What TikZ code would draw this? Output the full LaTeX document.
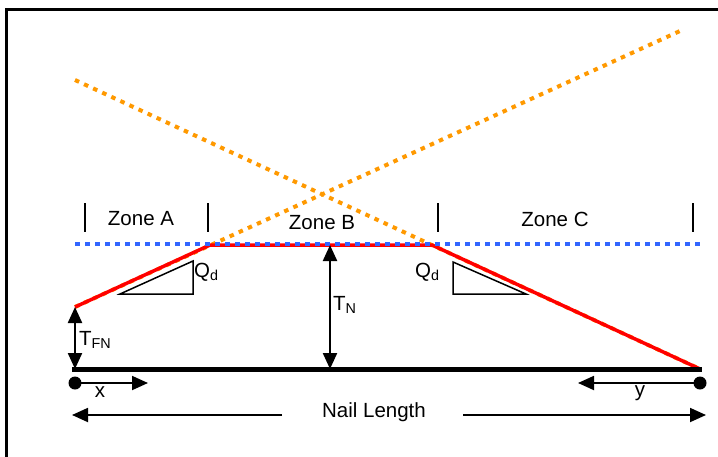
\documentclass[tikz,border=0pt]{standalone}
\usepackage{fontspec}
\setmainfont{Liberation Sans}
\usetikzlibrary{arrows.meta}
\begin{document}
\begin{tikzpicture}[x=1pt,y=-1pt,
 lbl/.style={font=\fontsize{20.5}{24}\selectfont, inner sep=0pt},
 onearrow/.style={line width=1.8pt, -{Triangle[length=16pt,width=14pt]}},
 twoarrow/.style={line width=2.2pt, {Triangle[length=16pt,width=14pt]}-{Triangle[length=16pt,width=14pt]}},
 orangedot/.style={draw={rgb,255:red,255;green,153;blue,0}, line width=4pt, dash pattern=on 4.5pt off 5.5pt},
 bluedot/.style={draw={rgb,255:red,51;green,102;blue,255}, line width=4.5pt, dash pattern=on 5pt off 5pt},
 redline/.style={draw=red, line width=3.5pt, line join=round},
 tick/.style={line width=2.5pt},
 dotnode/.style={circle, fill=black, inner sep=0pt, minimum size=13pt}]
\useasboundingbox (0,0) rectangle (718,456);
\draw[line width=3pt] (6,9) rectangle (760,500);
% key points
\coordinate (P0) at (75,307);
\coordinate (P1) at (210,245);
\coordinate (P2) at (432,245);
\coordinate (P3) at (700,369);
\coordinate (OA) at (75,80);
\coordinate (OB) at (680,31);
\coordinate (BL) at (75,244);
\coordinate (BR) at (700,244);
\coordinate (NL) at (72,369);
\coordinate (NR) at (702,369);
% orange dotted lines
\draw[orangedot] (OA) -- (P3);
\draw[orangedot] (P0) -- (OB);
% red profile
\draw[redline] (P0) -- (P1) -- (P2) -- (P3);
% blue dotted line
\draw[bluedot] (BL) -- (BR);
% nail
\draw[line width=5pt] (NL) -- (NR);
% zone ticks
\foreach \n/\x in {t1/85,t2/208,t3/438,t4/693}{
  \coordinate (\n a) at (\x,203);
  \coordinate (\n b) at (\x,232);
  \draw[tick] (\n a) -- (\n b);
}
\node[lbl] (za) at (141,219) {Zone A};
\node[lbl] (zb) at (322,223) {Zone B};
\node[lbl] (zc) at (555,219) {Zone C};
% slope triangles
\coordinate (a1) at (120,294);
\coordinate (a2) at (193,261);
\coordinate (a3) at (193,294);
\draw[line width=1.5pt, line join=miter] (a1) -- (a2) -- (a3) -- cycle;
\coordinate (b1) at (453,262);
\coordinate (b2) at (453,294);
\coordinate (b3) at (526,294);
\draw[line width=1.5pt, line join=miter] (b1) -- (b2) -- (b3) -- cycle;
\node[lbl, anchor=west] (q1) at (194,272) {Q\textsubscript{d}};
\node[lbl, anchor=west] (q2) at (415,272) {Q\textsubscript{d}};
% T_N
\coordinate (tn0) at (330,245);
\coordinate (tn1) at (330,369);
\draw[twoarrow] (tn0) -- (tn1);
\node[lbl, anchor=west] (tn) at (333,305) {T\textsubscript{N}};
% T_FN
\coordinate (tf0) at (75,307);
\coordinate (tf1) at (75,369);
\draw[twoarrow] (tf0) -- (tf1);
\node[lbl, anchor=west] (tf) at (79,340) {T\textsubscript{FN}};
% end dots and x, y
\node[dotnode] (dl) at (75,383) {};
\node[dotnode] (dr) at (700,383) {};
\coordinate (xe) at (148,383);
\coordinate (ye) at (578,383);
\draw[onearrow] (dl.center) -- (xe);
\draw[onearrow] (dr.center) -- (ye);
\node[lbl] (xl) at (100,392) {x};
\node[lbl] (yl) at (640,393) {y};
% nail length
\node[lbl] (nl) at (374,412) {Nail Length};
\coordinate (la) at (72,415);
\coordinate (ra) at (706,415);
\coordinate (lb) at (282,415);
\coordinate (rb) at (463,415);
\draw[onearrow] (lb) -- (la);
\draw[onearrow] (rb) -- (ra);
\end{tikzpicture}
\end{document}
